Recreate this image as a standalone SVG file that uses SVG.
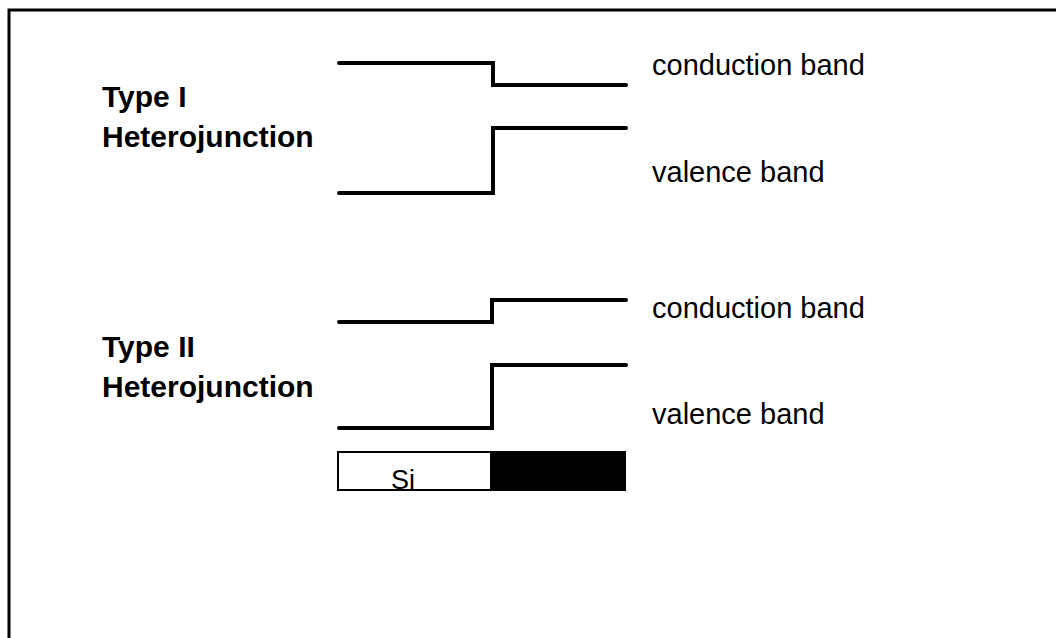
<svg xmlns="http://www.w3.org/2000/svg" width="1056" height="638" viewBox="0 0 1056 638">
<style>
.band{fill:none;stroke:#000;stroke-width:4;stroke-linecap:round;stroke-linejoin:miter}
.lbl{font-family:"Liberation Sans",Arial,sans-serif;font-size:29px;fill:#000}
.ttl{font-family:"Liberation Sans",Arial,sans-serif;font-size:30px;font-weight:bold;fill:#000}
</style>
<rect width="1056" height="638" fill="#fff"/>
<g id="frame"><path d="M9,638 V10 H1056" fill="none" stroke="#000" stroke-width="3"/></g>
<g id="type1-label"><text class="ttl" x="102" y="107">Type I</text><text class="ttl" x="102" y="147">Heterojunction</text></g>
<g id="type2-label"><text class="ttl" x="102" y="357">Type II</text><text class="ttl" x="102" y="397">Heterojunction</text></g>
<g id="connectors">
<path class="band" d="M339,63 H493 V85 H626"/>
<path class="band" d="M339,193 H493 V128 H626"/>
<path class="band" d="M339,322 H492 V300 H626"/>
<path class="band" d="M339,428 H492 V365 H626"/>
</g>
<g id="labels">
<text class="lbl" x="652" y="75">conduction band</text>
<text class="lbl" x="652" y="182">valence band</text>
<text class="lbl" x="652" y="318">conduction band</text>
<text class="lbl" x="652" y="424">valence band</text>
</g>
<g id="materials">
<rect x="338" y="452" width="153" height="38" fill="#fff" stroke="#000" stroke-width="2"/>
<rect x="491" y="452" width="134" height="38" fill="#000" stroke="#000" stroke-width="2"/>
<text class="lbl" x="391" y="489" style="font-size:27px">Si</text>
</g>
</svg>
